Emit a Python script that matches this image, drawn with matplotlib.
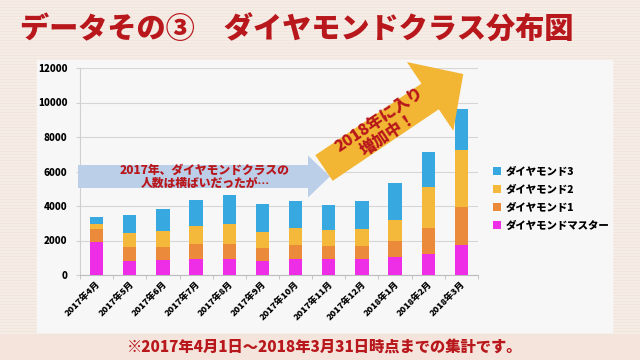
import matplotlib.pyplot as plt
import numpy as np
from matplotlib.patches import FancyArrow, Rectangle

plt.rcParams['font.family'] = ['Noto Sans CJK JP', 'DejaVu Sans']

months = ['2017年4月', '2017年5月', '2017年6月', '2017年7月', '2017年8月', '2017年9月',
          '2017年10月', '2017年11月', '2017年12月', '2018年1月', '2018年2月', '2018年3月']
master = [1930, 815, 870, 950, 930, 815, 950, 950, 910, 1065, 1200, 1740]
d1 = [720, 795, 775, 850, 870, 770, 775, 715, 755, 930, 1530, 2225]
d2 = [310, 850, 930, 1065, 1160, 930, 1005, 965, 1025, 1220, 2345, 3310]
d3 = [390, 1040, 1235, 1490, 1705, 1605, 1585, 1455, 1625, 2145, 2070, 2345]
yticks = [0, 2000, 4000, 6000, 8000, 10000, 12000]

red = '#b8171c'
cols = {'master': '#ee2ee6', 'd1': '#ec8a3b', 'd2': '#f4b83a', 'd3': '#38a8e0'}

fig = plt.figure(figsize=(6.4, 3.6), dpi=100)
fig.patch.set_facecolor('#f6ece6')

# background layer in pixel coords
bg = fig.add_axes([0, 0, 1, 1], zorder=0)
bg.set_xlim(0, 640)
bg.set_ylim(360, 0)
bg.axis('off')
for yy in np.arange(1, 360, 3):
    bg.axhline(yy, color='#f1e4dd', lw=0.6, zorder=0)
bg.add_patch(Rectangle((0, 335), 640, 25, color='#f5e4db', zorder=1))
bg.add_patch(Rectangle((37, 60), 575, 272, color='#f7f7f7', zorder=2))
bg.text(20, 30, 'データその③　ダイヤモンドクラス分布図', color=red, fontsize=21,
        fontweight='black', va='center', ha='left', zorder=3)
bg.text(325, 347, '※2017年4月1日～2018年3月31日時点までの集計です。', color=red,
        fontsize=11, fontweight='black', va='center', ha='center', zorder=3)

# chart
ax = fig.add_axes([80 / 640, 85 / 360, 398 / 640, 207 / 360], zorder=1)
ax.patch.set_alpha(0)
x = np.arange(len(months))
w = 0.4
b1 = np.array(master)
b2 = b1 + np.array(d1)
b3 = b2 + np.array(d2)
p0 = ax.bar(x, master, w, color=cols['master'], label='ダイヤモンドマスター', zorder=3)
p1 = ax.bar(x, d1, w, bottom=b1, color=cols['d1'], label='ダイヤモンド1', zorder=3)
p2 = ax.bar(x, d2, w, bottom=b2, color=cols['d2'], label='ダイヤモンド2', zorder=3)
p3 = ax.bar(x, d3, w, bottom=b3, color=cols['d3'], label='ダイヤモンド3', zorder=3)

ax.set_xlim(-0.5, len(months) - 0.5)
ax.set_ylim(0, 12000)
ax.set_yticks(yticks)
ax.set_yticklabels([str(v) for v in yticks], fontsize=7, fontweight='black')
ax.set_xticks(x)
ax.set_xticklabels(months, rotation=45, ha='right', rotation_mode='anchor',
                   fontsize=6.5, fontweight='black')
ax.set_xticks(np.arange(-0.5, len(months)), minor=True)
ax.tick_params(axis='x', which='major', length=0, pad=4)
ax.tick_params(axis='x', which='minor', length=3, color='#bdbdbd')
ax.tick_params(axis='y', length=3, color='#d0d0d0', pad=6)
ax.grid(axis='y', color='#d6d6d6', lw=0.8, zorder=0)
for s in ['top', 'right']:
    ax.spines[s].set_visible(False)
ax.spines['left'].set_color('#d0d0d0')
ax.spines['bottom'].set_color('#bdbdbd')

leg = ax.legend(handles=[p3, p2, p1, p0], loc='upper left',
                bbox_to_anchor=(484 / 640, 1 - 157 / 360), bbox_transform=fig.transFigure,
                frameon=False, prop={'size': 7.5, 'weight': 'black'},
                handlelength=0.7, handleheight=0.7, handletextpad=0.5, labelspacing=0.75)

# arrows and notes on top
fr = fig.add_axes([0, 0, 1, 1], zorder=2)
fr.set_xlim(0, 640)
fr.set_ylim(360, 0)
fr.axis('off')
fr.patch.set_alpha(0)
fr.add_patch(FancyArrow(78, 176.5, 252, 0, width=23, head_width=42, head_length=22,
                        length_includes_head=True, color='#bccfe9', lw=0))
fr.text(205, 176, '2017年、ダイヤモンドクラスの\n人数は横ばいだったが…', color=red,
        fontsize=8.5, fontweight='black', ha='center', va='center', linespacing=1.1)
ang = np.deg2rad(34)
L = 168
fr.add_patch(FancyArrow(324, 168, L * np.cos(ang), -L * np.sin(ang), width=31,
                        head_width=83, head_length=40, length_includes_head=True,
                        color='#f2b634', lw=0))
fr.text(384, 127, '2018年に入り\n増加中！', color=red, fontsize=11.5, fontweight='black',
        ha='center', va='center', rotation=34, rotation_mode='anchor',
        multialignment='center', linespacing=1.05)

fig.savefig('out.png', dpi=100, facecolor=fig.get_facecolor())
